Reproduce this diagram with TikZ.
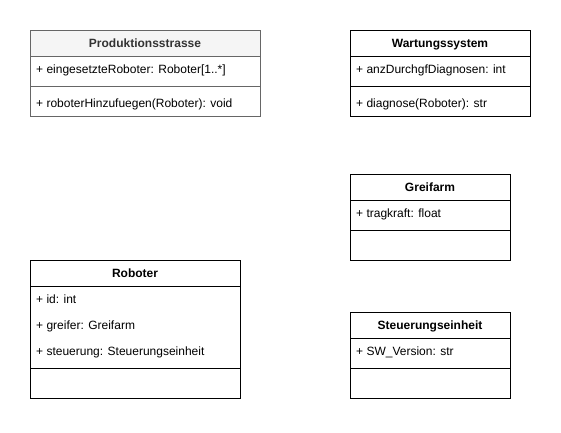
\documentclass[tikz,border=0pt]{standalone}
\usepackage{fontspec}
\setmainfont{Liberation Sans}
\begin{document}
\begin{tikzpicture}[x=1pt,y=-1pt,
  font=\fontsize{12}{14}\selectfont,
  umlbox/.style={draw=black, line width=1pt, inner sep=0pt, outer sep=0pt, anchor=north west, fill=white},
  greybox/.style={umlbox, draw=black!60},
  sepline/.style={draw=black, line width=1pt},
  greysep/.style={draw=black!60, line width=1pt},
  title/.style={font=\fontsize{12}{14}\selectfont\bfseries, inner sep=0pt, anchor=base},
  attr/.style={inner sep=0pt, anchor=base west}]
\useasboundingbox (0,0) rectangle (561,432);
\definecolor{hdrfill}{HTML}{F5F5F5}
\definecolor{hdrtext}{HTML}{333333}

% Produktionsstrasse
\node[greybox, minimum width=230pt, minimum height=86pt] (prod) at (30,30) {};
\fill[hdrfill] (prod.north west) rectangle ([yshift=-26pt]prod.north east);
\draw[greysep] (prod.north west) rectangle (prod.south east);
\draw[greysep] ([yshift=-26pt]prod.north west) -- ([yshift=-26pt]prod.north east);
\draw[greysep] ([yshift=-56pt]prod.north west) -- ([yshift=-56pt]prod.north east);
\node[title, text=hdrtext] (prodT) at ([yshift=-17.3pt]prod.north) {Produktionsstrasse};
\node[attr] (prodA) at ([xshift=6pt,yshift=-43.3pt]prod.north west) {+ eingesetzteRoboter: Roboter[1..*]};
\node[attr] (prodM) at ([xshift=6pt,yshift=-77.3pt]prod.north west) {+ roboterHinzufuegen(Roboter): void};

% Wartungssystem
\node[umlbox, minimum width=180pt, minimum height=86pt] (wart) at (350,30) {};
\draw[sepline] ([yshift=-26pt]wart.north west) -- ([yshift=-26pt]wart.north east);
\draw[sepline] ([yshift=-56pt]wart.north west) -- ([yshift=-56pt]wart.north east);
\node[title] (wartT) at ([yshift=-17.3pt]wart.north) {Wartungssystem};
\node[attr] (wartA) at ([xshift=6pt,yshift=-43.3pt]wart.north west) {+ anzDurchgfDiagnosen: int};
\node[attr] (wartM) at ([xshift=6pt,yshift=-77.3pt]wart.north west) {+ diagnose(Roboter): str};

% Greifarm
\node[umlbox, minimum width=160pt, minimum height=86pt] (greif) at (350,174) {};
\draw[sepline] ([yshift=-26pt]greif.north west) -- ([yshift=-26pt]greif.north east);
\draw[sepline] ([yshift=-56pt]greif.north west) -- ([yshift=-56pt]greif.north east);
\node[title] (greifT) at ([yshift=-17.3pt]greif.north) {Greifarm};
\node[attr] (greifA) at ([xshift=6pt,yshift=-43.3pt]greif.north west) {+ tragkraft: float};

% Roboter
\node[umlbox, minimum width=210pt, minimum height=138pt] (rob) at (30,260) {};
\draw[sepline] ([yshift=-26pt]rob.north west) -- ([yshift=-26pt]rob.north east);
\draw[sepline] ([yshift=-108pt]rob.north west) -- ([yshift=-108pt]rob.north east);
\node[title] (robT) at ([yshift=-17.3pt]rob.north) {Roboter};
\node[attr] (robA) at ([xshift=6pt,yshift=-43.3pt]rob.north west) {+ id: int};
\node[attr] (robB) at ([xshift=6pt,yshift=-69.3pt]rob.north west) {+ greifer: Greifarm};
\node[attr] (robC) at ([xshift=6pt,yshift=-95.3pt]rob.north west) {+ steuerung: Steuerungseinheit};

% Steuerungseinheit
\node[umlbox, minimum width=160pt, minimum height=86pt] (steu) at (350,312) {};
\draw[sepline] ([yshift=-26pt]steu.north west) -- ([yshift=-26pt]steu.north east);
\draw[sepline] ([yshift=-56pt]steu.north west) -- ([yshift=-56pt]steu.north east);
\node[title] (steuT) at ([yshift=-17.3pt]steu.north) {Steuerungseinheit};
\node[attr] (steuA) at ([xshift=6pt,yshift=-43.3pt]steu.north west) {+ SW\_Version: str};
\end{tikzpicture}
\end{document}
